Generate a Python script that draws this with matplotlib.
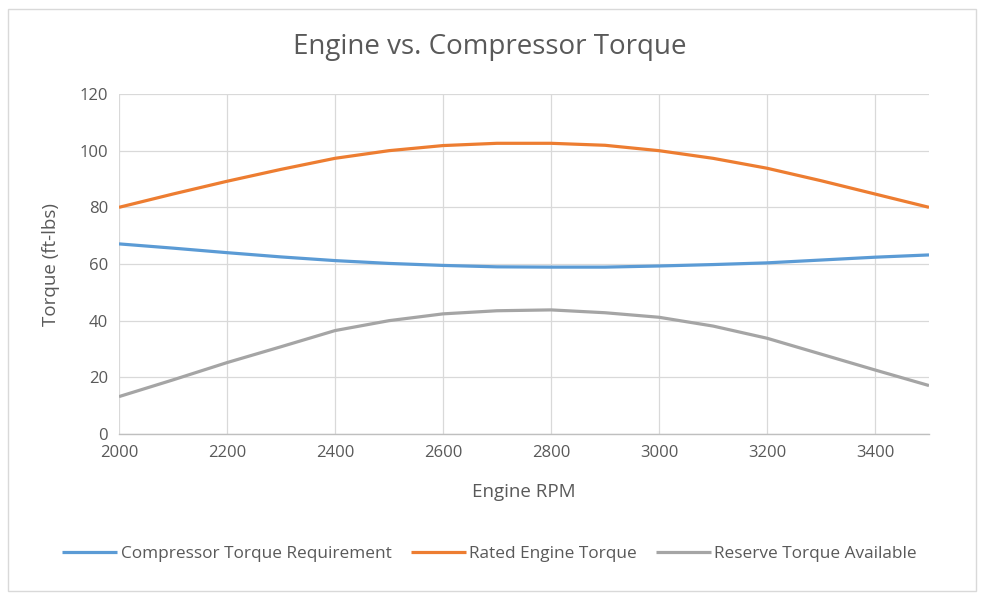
import matplotlib
matplotlib.use("Agg")
import matplotlib.pyplot as plt
from matplotlib.patches import Rectangle

plt.rcParams["font.family"] = ["Open Sans", "DejaVu Sans"]

TEXT = "#595959"
GRID = "#D9D9D9"
BLUE = "#5B9BD5"
ORANGE = "#ED7D31"
GRAY = "#A5A5A5"

rpm = [2000, 2100, 2200, 2300, 2400, 2500, 2600, 2700, 2800,
       2900, 3000, 3100, 3200, 3300, 3400, 3500]
compressor = [67.1, 65.6, 64.0, 62.5, 61.2, 60.2, 59.5, 59.0, 58.9,
              58.9, 59.3, 59.8, 60.4, 61.4, 62.4, 63.2]
rated = [80.0, 84.7, 89.2, 93.4, 97.3, 100.0, 101.8, 102.6, 102.6,
         101.9, 100.0, 97.3, 93.8, 89.4, 84.7, 80.0]
reserve = [13.2, 19.1, 25.2, 30.8, 36.5, 40.0, 42.4, 43.5, 43.8,
           42.8, 41.2, 38.1, 33.8, 28.2, 22.6, 17.1]

fig = plt.figure(figsize=(9.85, 6.01), dpi=100, facecolor="white")
fig.patches.append(Rectangle((8 / 985, 10 / 601), 968 / 985, 582 / 601,
                             transform=fig.transFigure, fill=False,
                             edgecolor=GRID, linewidth=1.0))

ax = fig.add_axes((119 / 985, 1 - 434 / 601, 810 / 985, 340 / 601))
for y, lab, c in [(compressor, "Compressor Torque Requirement", BLUE),
                  (rated, "Rated Engine Torque", ORANGE),
                  (reserve, "Reserve Torque Available", GRAY)]:
    ax.plot(rpm, y, color=c, linewidth=2.3, label=lab,
            solid_capstyle="butt", zorder=3)

ax.set_xlim(2000, 3500)
ax.set_ylim(0, 120)
ax.set_xticks(range(2000, 3501, 200))
ax.set_yticks(range(0, 121, 20))
ax.grid(True, color=GRID, linewidth=0.9)
ax.set_axisbelow(True)
for name, s in ax.spines.items():
    if name == "bottom":
        s.set_color("#BFBFBF")
        s.set_linewidth(1.0)
    else:
        s.set_visible(False)
ax.tick_params(length=0, labelsize=12, labelcolor=TEXT, pad=8)
ax.set_xlabel("Engine RPM", fontsize=13.5, color=TEXT, labelpad=16)
ax.set_ylabel("Torque (ft-lbs)", fontsize=13.5, color=TEXT, labelpad=14)

fig.text(0.497, 1 - 47 / 601, "Engine vs. Compressor Torque",
         ha="center", va="center", fontsize=20, color=TEXT)

fig.legend(loc="center", bbox_to_anchor=(0.497, 1 - 554 / 601), ncol=3,
           frameon=False, fontsize=12.4, labelcolor=TEXT,
           handlelength=3.2, handletextpad=0.2, columnspacing=1.1)

fig.savefig("out.png", dpi=100, facecolor="white")
